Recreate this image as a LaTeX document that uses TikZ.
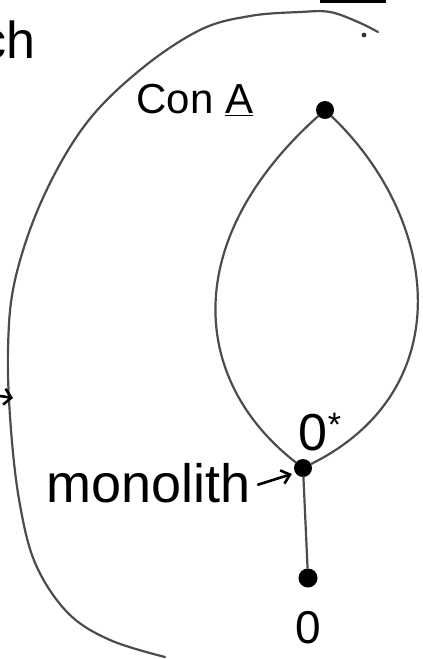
\documentclass[tikz,border=0pt]{standalone}
\usepackage{fontspec}
\setmainfont{Liberation Sans}
\usetikzlibrary{arrows.meta}
\begin{document}
\begin{tikzpicture}[x=1pt,y=-1pt,
  pen/.style={line width=2.2pt,draw=black!70,line cap=round},
  ink/.style={line width=2.6pt,draw=black,line cap=round},
  dot/.style={circle,fill=black,inner sep=0pt,minimum size=18pt},
  hand/.style={font=\fontsize{52}{60}\selectfont,inner sep=0pt}]
\useasboundingbox (0,0) rectangle (423,659);
% vertices
\node[dot] (top) at (325,110) {};
\node[dot] (mono) at (303,468) {};
\node[dot,minimum width=16pt,minimum height=19pt] (bot) at (308,578) {};
% labels
\node[hand,font=\fontsize{42}{50}\selectfont] (con) at (195,100) {Con \underline{A}};
\node[hand] (ostar) at (320,432) {0\raisebox{14pt}{\fontsize{34}{34}\selectfont *}};
\node[hand,font=\fontsize{46}{54}\selectfont] (zero) at (308,628) {0};
\node[hand,font=\fontsize{54}{62}\selectfont,anchor=base east] (monolith) at (251,502) {monolith};
\node[hand,anchor=base east] (ch) at (36,58) {ch};
% lattice edges
\draw[pen] (top) .. controls (180,240) and (190,380) .. (mono);
\draw[pen] (top) .. controls (440,220) and (460,390) .. (mono);
\draw[pen] (mono) -- (bot);
% monolith arrow
\draw[ink,-{Straight Barb[length=8pt,width=14pt]}] ([xshift=7pt,yshift=-2pt]monolith.east) -- ([xshift=-2pt,yshift=-6pt]mono.west);
% big outer curve
\draw[pen] plot[smooth,tension=0.6] coordinates {(378,32) (358,22) (330,12) (300,12) (250,16) (200,30) (140,70) (85,125) (42,200) (15,280) (8,350) (11,430) (20,505) (36,565) (68,613) (110,640) (165,657)};
% small arrow at left into the curve
\coordinate (la) at (0,396);
\coordinate (lb) at (13,398);
\draw[ink,-{Straight Barb[length=7pt,width=16pt]}] (la) -- (lb);
% stray dot and cut-off stroke at top right
\fill[black!80] (364,35) circle (2.4pt);
\coordinate (ta) at (320,1);
\coordinate (tb) at (386,1);
\draw[line width=3pt,black] (ta) -- (tb);
\end{tikzpicture}
\end{document}
